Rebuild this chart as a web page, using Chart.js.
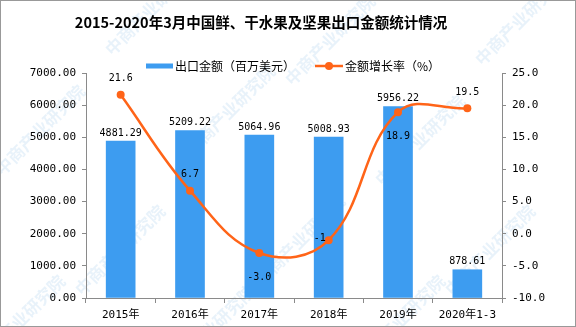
<!DOCTYPE html>
<html>
<head>
<meta charset="utf-8">
<script src="https://cdn.jsdelivr.net/npm/chart.js@4.4.0/dist/chart.umd.min.js"></script>
<style>
  html, body { margin: 0; padding: 0; background: #fff; }
  #wrap { position: relative; width: 576px; height: 327px; }
</style>
</head>
<body>
<div id="wrap"><canvas id="exportChart"></canvas></div>
<script>
const years = ["2015年", "2016年", "2017年", "2018年", "2019年", "2020年1-3"];
const exportValue = [4881.29, 5209.22, 5064.96, 5008.93, 5956.22, 878.61];
const growthText = ["21.6", "6.7", "-3.0", "-1", "18.9", "19.5"];
const growthRate = growthText.map(Number);
// which side of the point each growth label sits on
const growthLabelSide = ["top", "top", "bottom", "left", "bottom", "top"];

const MONO = '"DejaVu Sans Mono", "Noto Sans CJK SC", monospace';
const CJK = '"Noto Sans CJK SC", sans-serif';
const BAR_COLOR = "#3D9CF0";
const LINE_COLOR = "#FF6418";
const AXIS_COLOR = "#8a8a8a";

const sideOffset = {
  top: { dx: 0, dy: -16, align: "center" },
  bottom: { dx: 0, dy: 24, align: "center" },
  left: { dx: -3, dy: -2, align: "right" }
};

const decor = {
  id: "decor",
  beforeDraw(chart) {
    const ctx = chart.ctx;
    ctx.save();
    ctx.fillStyle = "#fff";
    ctx.fillRect(0, 0, chart.width, chart.height);
    // faint brand text in the background
    ctx.font = "bold 17px " + CJK;
    ctx.fillStyle = "rgba(150, 195, 230, 0.22)";
    ctx.textAlign = "center";
    ctx.textBaseline = "middle";
    const spots = [[150, 10], [330, 40], [520, 20], [40, 130], [230, 110], [420, 140],
                   [120, 250], [300, 240], [490, 250], [20, 320], [210, 330], [400, 320]];
    spots.forEach(([x, y]) => {
      ctx.save();
      ctx.translate(x, y);
      ctx.rotate(-Math.PI / 4);
      ctx.fillText("中商产业研究院", 0, 0);
      ctx.restore();
    });
    ctx.restore();
  },
  afterDatasetsDraw(chart) {
    const ctx = chart.ctx;
    ctx.save();
    ctx.fillStyle = "#000";
    ctx.font = "10px " + MONO;

    // bar values
    ctx.textAlign = "center";
    ctx.textBaseline = "bottom";
    chart.getDatasetMeta(0).data.forEach((bar, i) => {
      ctx.fillText(exportValue[i].toFixed(2), bar.x, bar.y - 3);
    });

    // growth values
    ctx.textBaseline = "middle";
    chart.getDatasetMeta(1).data.forEach((pt, i) => {
      const s = sideOffset[growthLabelSide[i]];
      ctx.textAlign = s.align;
      ctx.fillText(growthText[i], pt.x + s.dx, pt.y + s.dy);
    });
    ctx.restore();
  },
  afterDraw(chart) {
    const ctx = chart.ctx;
    ctx.save();

    // title
    ctx.fillStyle = "#000";
    ctx.font = "bold 14.5px " + CJK;
    ctx.textAlign = "center";
    ctx.textBaseline = "middle";
    ctx.fillText("2015-2020年3月中国鲜、干水果及坚果出口金额统计情况", 261, 22);

    // legend
    ctx.font = "12px " + CJK;
    ctx.textAlign = "left";
    ctx.fillStyle = BAR_COLOR;
    ctx.fillRect(146, 63.5, 27, 5);
    ctx.fillStyle = "#000";
    ctx.fillText("出口金额（百万美元）", 175, 66);

    ctx.strokeStyle = LINE_COLOR;
    ctx.lineWidth = 2.5;
    ctx.beginPath();
    ctx.moveTo(315, 66);
    ctx.lineTo(343, 66);
    ctx.stroke();
    ctx.fillStyle = LINE_COLOR;
    ctx.beginPath();
    ctx.arc(329, 66, 4, 0, Math.PI * 2);
    ctx.fill();
    ctx.fillStyle = "#000";
    ctx.fillText("金额增长率（%）", 345, 66);

    // frame
    ctx.strokeStyle = "#999";
    ctx.lineWidth = 1;
    ctx.strokeRect(0.5, 0.5, chart.width - 1, chart.height - 1);
    ctx.restore();
  }
};

new Chart(document.getElementById("exportChart"), {
  data: {
    labels: years,
    datasets: [
      {
        type: "bar",
        label: "出口金额（百万美元）",
        data: exportValue,
        backgroundColor: BAR_COLOR,
        barThickness: 29,
        yAxisID: "y",
        order: 2
      },
      {
        type: "line",
        label: "金额增长率（%）",
        data: growthRate,
        borderColor: LINE_COLOR,
        backgroundColor: LINE_COLOR,
        borderWidth: 2.5,
        tension: 0.4,
        pointRadius: 4,
        pointHoverRadius: 4,
        pointBorderWidth: 0,
        yAxisID: "y1",
        order: 1
      }
    ]
  },
  options: {
    responsive: true,
    maintainAspectRatio: false,
    animation: false,
    layout: { padding: { top: 73, left: 0, right: 0, bottom: 0 } },
    plugins: {
      legend: { display: false },
      title: { display: false },
      tooltip: { enabled: false }
    },
    scales: {
      x: {
        grid: { drawOnChartArea: false, tickLength: 5, color: AXIS_COLOR },
        border: { color: AXIS_COLOR },
        ticks: { color: "#000", font: { family: MONO, size: 11 }, padding: 6, maxRotation: 0, autoSkip: false },
        afterFit: s => { s.height = 29; }
      },
      y: {
        position: "left",
        min: 0,
        max: 7000,
        grid: { drawOnChartArea: false, tickLength: 4, color: AXIS_COLOR },
        border: { color: AXIS_COLOR },
        ticks: { stepSize: 1000, color: "#000", font: { family: MONO, size: 11 }, padding: 6,
                 callback: v => v.toFixed(2) },
        afterFit: s => { s.width = 86; }
      },
      y1: {
        position: "right",
        min: -10,
        max: 25,
        grid: { drawOnChartArea: false, tickLength: 4, color: AXIS_COLOR },
        border: { color: AXIS_COLOR },
        ticks: { stepSize: 5, color: "#000", font: { family: MONO, size: 11 }, padding: 6,
                 callback: v => v.toFixed(1) },
        afterFit: s => { s.width = 74; }
      }
    }
  },
  plugins: [decor]
});
</script>
</body>
</html>
